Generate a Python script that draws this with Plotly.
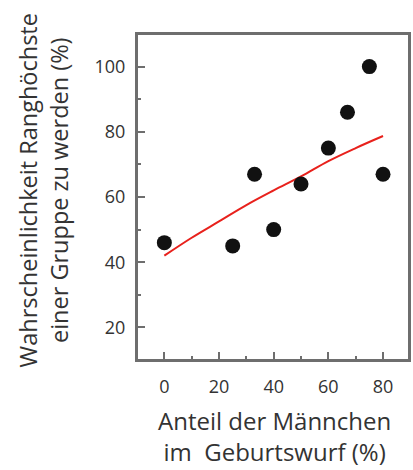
import plotly.graph_objects as go

# Data
male_share = [0, 25, 33, 40, 50, 60, 67, 75, 80]
prob_top = [46, 45, 67, 50, 64, 75, 86, 100, 67]

fit_x = [0, 10, 20, 30, 40, 50, 60, 70, 80]
fit_y = [42, 47.5, 52.5, 57.5, 62, 66.3, 71, 75, 78.7]

x_tickvals = [0, 20, 40, 60, 80]
y_tickvals = [20, 40, 60, 80, 100]
x_minor_ticks = [10, 30, 50, 70]
y_minor_ticks = [30, 50, 70, 90]
x_range = [-10, 89.5]
y_range = [10, 110]

x_title = "Anteil der Männchen<br>im  Geburtswurf (%)"
y_title = "Wahrscheinlichkeit Ranghöchste<br>einer Gruppe zu werden (%)"

font_family = "Open Sans"
text_color = "#333333"
frame_color = "#6e6e6e"

fig = go.Figure()
fig.add_trace(go.Scatter(
    x=fit_x, y=fit_y, mode="lines", line=dict(color="#e8211c", width=2, shape="spline"),
    hoverinfo="skip", showlegend=False))
fig.add_trace(go.Scatter(
    x=male_share, y=prob_top, mode="markers",
    marker=dict(color="#111111", size=15, line=dict(width=0)), showlegend=False))
# invisible copy on the overlay axes that carry the short (minor) ticks
fig.add_trace(go.Scatter(
    x=male_share, y=prob_top, xaxis="x2", yaxis="y2", mode="markers",
    marker=dict(opacity=0, size=1), showlegend=False, hoverinfo="skip"))

axis_common = dict(
    showline=True, linecolor=frame_color, linewidth=2, mirror=True,
    ticks="inside", tickwidth=2, tickcolor=frame_color,
    showgrid=False, zeroline=False, automargin=False,
    tickfont=dict(family=font_family, size=18, color=text_color),
)

fig.update_layout(
    width=413, height=470,
    margin=dict(l=137, r=4, t=34, b=110),
    paper_bgcolor="white", plot_bgcolor="white",
    font=dict(family=font_family, color=text_color),
    xaxis=dict(range=x_range, tickvals=x_tickvals, ticklen=8, ticklabelstandoff=9,
               **axis_common),
    yaxis=dict(range=y_range, tickvals=y_tickvals, ticklen=8, ticklabelstandoff=6,
               **axis_common),
    xaxis2=dict(range=x_range, tickvals=x_minor_ticks, ticklen=4, overlaying="x",
                side="bottom", anchor="y2", showticklabels=False, **axis_common),
    yaxis2=dict(range=y_range, tickvals=y_minor_ticks, ticklen=4, overlaying="y",
                side="left", anchor="x2", showticklabels=False, **axis_common),
    shapes=[dict(type="rect", xref="paper", yref="paper", x0=0, x1=1, y0=0, y1=1,
                 line=dict(color=frame_color, width=2), layer="above")],
    annotations=[
        dict(text=x_title, xref="paper", yref="paper", x=0.507, y=-0.232,
             xanchor="center", yanchor="middle", showarrow=False,
             font=dict(size=24, color=text_color, family=font_family)),
        dict(text=y_title, xref="paper", yref="paper", x=-0.342, y=0.52,
             xanchor="center", yanchor="middle", showarrow=False, textangle=-90,
             font=dict(size=23.5, color=text_color, family=font_family)),
    ],
)

fig.write_html("out.html", config={"displayModeBar": False},
               post_script="document.body.style.margin='0';")
